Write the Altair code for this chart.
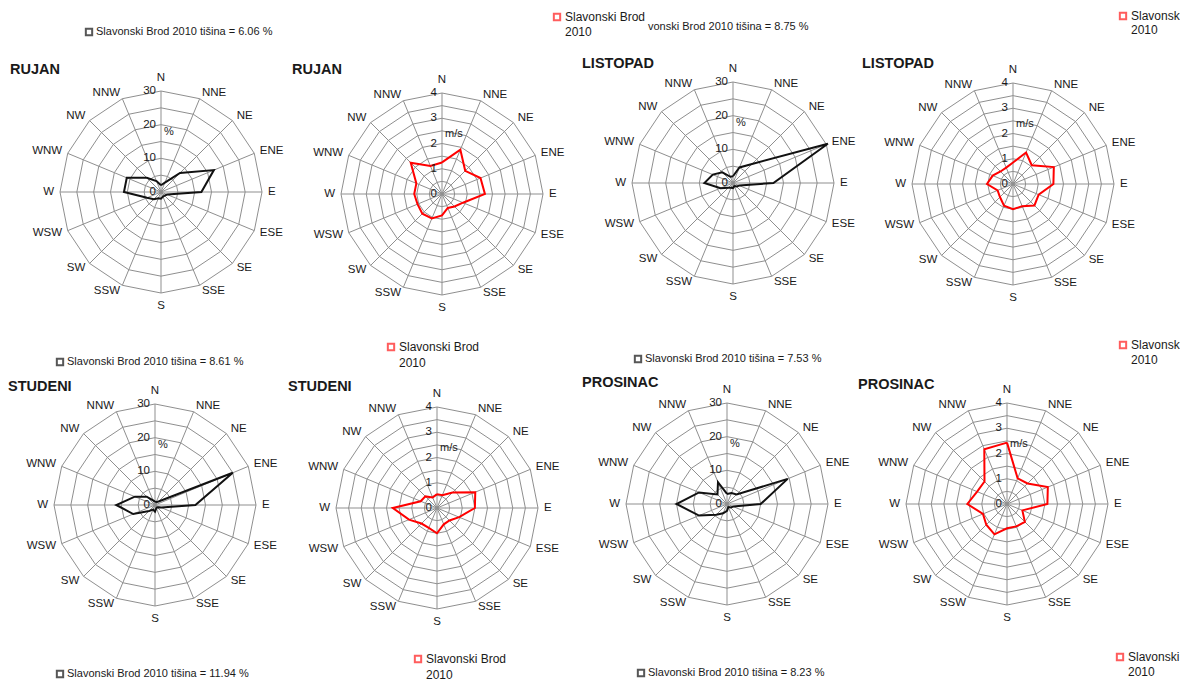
import altair as alt
import pandas as pd

# ---------------- data ----------------
DIRS = ["N", "NNE", "NE", "ENE", "E", "ESE", "SE", "SSE",
        "S", "SSW", "SW", "WSW", "W", "WNW", "NW", "NNW"]

RUJAN_PCT = [2, 3, 8, 17, 12, 2, 1.5, 1.5, 2, 2, 3, 4.5, 11, 11, 6, 3.5]
RUJAN_MS = [1.25, 1.9, 1.3, 1.65, 1.7, 0.9, 0.7, 0.6, 0.85, 1.05, 1.1, 1.05, 1.1, 1.1, 1.75, 1.2]
LISTOPAD_PCT = [2, 5, 8, 30.5, 12, 2, 1.5, 1, 1.5, 1.5, 2, 4, 8.5, 6.5, 4.5, 2]
LISTOPAD_MS = [0.85, 1.35, 1.05, 1.75, 1.6, 1.1, 1.2, 0.95, 1.0, 0.93, 0.73, 0.66, 1.03, 0.87, 0.7, 0.7]
STUDENI_PCT = [1, 1, 1.5, 25, 12, 2, 1, 1, 2, 1.5, 2.5, 7, 11.5, 6.5, 3.5, 1.5]
STUDENI_MS = [0.55, 0.55, 0.87, 1.64, 1.5, 0.95, 0.7, 0.7, 1.0, 0.85, 0.87, 1.2, 1.75, 0.7, 0.65, 0.45]
PROSINAC_PCT = [3, 3.5, 4, 19.5, 10, 2, 1.5, 1, 2, 3, 4.5, 9, 15, 9, 4, 7]
PROSINAC_MS = [2.43, 1.1, 1.15, 1.75, 1.6, 0.66, 1.0, 0.96, 0.96, 1.3, 1.16, 1.03, 1.57, 1.28, 1.26, 2.35]

PCT_TICKS = [0, 10, 20, 30]
MS_TICKS = [0, 1, 2, 3, 4]

TITLES = ["RUJAN", "RUJAN", "LISTOPAD", "LISTOPAD",
          "STUDENI", "STUDENI", "PROSINAC", "PROSINAC"]

CALM_TEXTS = ["Slavonski Brod 2010 tišina = 6.06 %",
              "vonski Brod 2010 tišina = 8.75 %",
              "Slavonski Brod 2010 tišina = 8.61 %",
              "Slavonski Brod 2010 tišina = 7.53 %",
              "Slavonski Brod 2010 tišina = 11.94 %",
              "Slavonski Brod 2010 tišina = 8.23 %"]
SPEED_TEXTS = ["Slavonski Brod", "Slavonsk", "Slavonski", "2010"]

# ---------------- layout (page pixels) ----------------
R = 101          # outer ring radius, px
PW = 284         # panel width
ROW_H = [317, 353]
ROW_TOP = [0, 317]
# rose centres and title anchors on the page
CENTRES = [(161, 190), (442, 192), (733, 181), (1013, 182),
           (155, 503), (437, 506), (727, 502), (1007, 502)]
TITLE_AT = [(10, 68), (292, 68), (582, 62), (862, 62),
            (8, 385), (288, 385), (582, 381), (858, 383)]
FONT = "Liberation Sans"
GRID = "#8f8f8f"
TXT = "#1a1a1a"
ONE = pd.DataFrame({"o": [0]})


def polar(rexpr, iexpr):
    return (f"({rexpr}) * sin(({iexpr}) * PI / 8)",
            f"({rexpr}) * cos(({iexpr}) * PI / 8)")


def legend_layers(items, ox, oy):
    layers = []
    for it in items:
        if "sq" in it:
            sx, sy, c = it["sq"]
            layers.append(alt.Chart(ONE).mark_square(
                size=40, filled=False, color=c, strokeWidth=2
            ).encode(x=alt.value(sx - ox), y=alt.value(sy - oy)))
        for tx, ty, txt, fs in it["lines"]:
            layers.append(alt.Chart(ONE).mark_text(
                text=txt, align="left", baseline="middle", font=FONT,
                fontSize=fs, color=TXT
            ).encode(x=alt.value(tx - ox), y=alt.value(ty - oy)))
    return layers


def black_leg(x, y, txt):
    return {"sq": (x, y, "#111111"), "lines": [(x + 7, y, txt, 11)]}


def red_leg(x, y, first, y2):
    return {"sq": (x, y, "#ff1a1a"),
            "lines": [(x + 8, y, first, 12), (x + 8, y2, SPEED_TEXTS[3], 12)]}


LEGENDS = {
    (0, 0): [black_leg(89, 30, CALM_TEXTS[0])],
    (0, 1): [red_leg(557, 15, SPEED_TEXTS[0], 30)],
    (0, 2): [{"lines": [(648, 25, CALM_TEXTS[1], 11)]}],
    (0, 3): [red_leg(1123, 14, SPEED_TEXTS[1], 28)],
    (1, 0): [black_leg(60, 360, CALM_TEXTS[2]), black_leg(60, 672, CALM_TEXTS[4])],
    (1, 1): [red_leg(391, 345, SPEED_TEXTS[0], 361), red_leg(418, 657, SPEED_TEXTS[0], 673)],
    (1, 2): [black_leg(638, 357, CALM_TEXTS[3]), black_leg(641, 671, CALM_TEXTS[5])],
    (1, 3): [red_leg(1123, 343, SPEED_TEXTS[1], 358), red_leg(1120, 655, SPEED_TEXTS[2], 670)],
}


def panel(values, kind, idx, row, col):
    H = ROW_H[row]
    ox = 8 + col * PW
    oy = 8 + ROW_TOP[row]
    cx = CENTRES[idx][0] - ox
    cy = CENTRES[idx][1] - oy
    pct = kind == "pct"
    vmax = 30 if pct else 4
    step = 5 if pct else 0.5
    ticks = PCT_TICKS if pct else MS_TICKS
    unit = "%" if pct else "m/s"
    color = "#111111" if pct else "#ff0000"

    xs = alt.Scale(domain=[-cx, PW - cx], nice=False, zero=False)
    ys = alt.Scale(domain=[cy - H, cy], nice=False, zero=False)

    def X(f):
        return alt.X(f"{f}:Q", scale=xs, axis=None)

    def Y(f):
        return alt.Y(f"{f}:Q", scale=ys, axis=None)

    nr = int(round(vmax / step))
    ring_df = pd.DataFrame([{"lev": step * (j + 1), "k": k}
                            for j in range(nr) for k in range(17)])
    rx, ry = polar(f"datum.lev / {vmax} * {R}", "datum.k")
    rings = alt.Chart(ring_df).transform_calculate(px=rx, py=ry).mark_line(
        color=GRID, strokeWidth=1
    ).encode(x=X("px"), y=Y("py"), detail="lev:N", order="k:Q")

    spoke_df = pd.DataFrame({"i": list(range(16))})
    sx, sy = polar(str(R), "datum.i")
    spokes = alt.Chart(spoke_df).transform_calculate(
        x0="0", y0="0", px=sx, py=sy
    ).mark_rule(color=GRID, strokeWidth=1).encode(
        x=X("x0"), y=Y("y0"), x2="px:Q", y2="py:Q")

    d = pd.DataFrame({"i": list(range(17)),
                      "dir": DIRS + [DIRS[0]],
                      "v": list(values) + [values[0]]})
    vx, vy = polar(f"datum.v / {vmax} * {R}", "datum.i")
    line = alt.Chart(d).transform_calculate(px=vx, py=vy).mark_line(
        color=color, strokeWidth=2, strokeJoin="miter"
    ).encode(x=X("px"), y=Y("py"), order="i:Q")

    lab_df = pd.DataFrame({"i": list(range(16)), "dir": DIRS})
    lx, ly = polar(f"{R} + ((datum.i % 8 == 0) ? 13 : 6)", "datum.i")
    base = alt.Chart(lab_df).transform_calculate(px=lx, py=ly)
    lab_kw = dict(baseline="middle", font=FONT, fontSize=11.5, color=TXT)
    labs = [
        base.transform_filter("datum.i > 0 && datum.i < 8").mark_text(align="left", **lab_kw)
        .encode(x=X("px"), y=Y("py"), text="dir:N"),
        base.transform_filter("datum.i > 8").mark_text(align="right", **lab_kw)
        .encode(x=X("px"), y=Y("py"), text="dir:N"),
        base.transform_filter("datum.i % 8 == 0").mark_text(align="center", **lab_kw)
        .encode(x=X("px"), y=Y("py"), text="dir:N"),
    ]

    tk = pd.DataFrame({"t": ticks})
    tick_layer = alt.Chart(tk).transform_calculate(
        px="-5", py=f"datum.t / {vmax} * {R}"
    ).mark_text(align="right", baseline="middle", font=FONT, fontSize=11.5,
                color=TXT).encode(x=X("px"), y=Y("py"), text="t:N")

    unit_layer = alt.Chart(ONE).mark_text(
        text=unit, align="left", baseline="middle", font=FONT, fontSize=11,
        color=TXT).encode(x=alt.value(cx + 3), y=alt.value(cy - 60))

    tx, ty = TITLE_AT[idx]
    title_layer = alt.Chart(ONE).mark_text(
        text=TITLES[idx], align="left", baseline="middle", font=FONT, fontSize=14.5,
        fontWeight="bold", color=TXT).encode(x=alt.value(tx - ox), y=alt.value(ty - oy))

    layers = [rings, spokes, line] + labs + [tick_layer, unit_layer, title_layer]
    layers += legend_layers(LEGENDS[(row, col)], ox, oy)
    return alt.layer(*layers).properties(width=PW, height=H)


SERIES = [(RUJAN_PCT, "pct"), (RUJAN_MS, "ms"), (LISTOPAD_PCT, "pct"), (LISTOPAD_MS, "ms"),
          (STUDENI_PCT, "pct"), (STUDENI_MS, "ms"), (PROSINAC_PCT, "pct"), (PROSINAC_MS, "ms")]

panels = []
for r in range(2):
    for c in range(4):
        idx = r * 4 + c
        vals, kind = SERIES[idx]
        panels.append(panel(vals, kind, idx, r, c))

chart = alt.concat(*panels, columns=4, spacing=0, bounds="flush").resolve_scale(
    x="independent", y="independent"
).properties(padding=0).configure_view(stroke=None)

chart.save("out.html", embed_options={"renderer": "svg", "actions": False})
